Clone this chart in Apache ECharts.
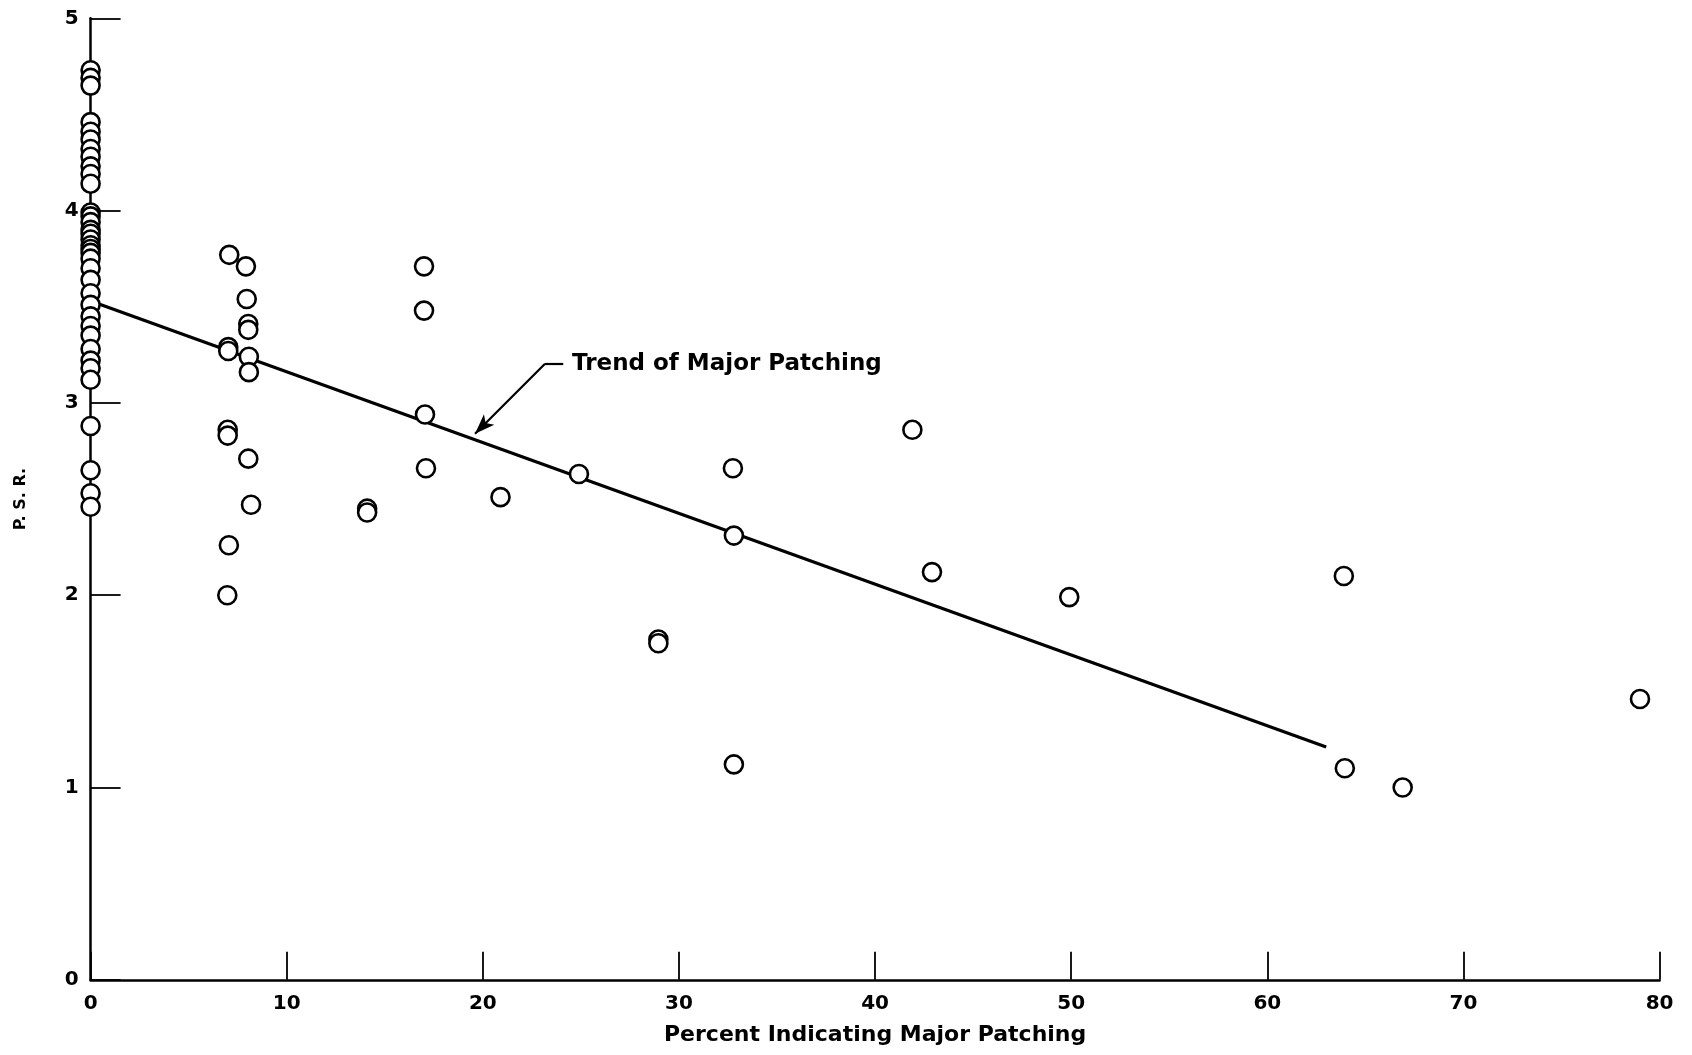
<!DOCTYPE html>
<html>
<head>
<meta charset="utf-8">
<script src="https://cdn.jsdelivr.net/npm/echarts@6/dist/echarts.min.js"></script>
<style>
html,body{margin:0;padding:0;background:#fff;}
#c{width:1692px;height:1055px;}
</style>
</head>
<body>
<div id="c"></div>
<script>
// ---- data ----
const xTickLabels = [0, 10, 20, 30, 40, 50, 60, 70, 80];
const yTickLabels = [0, 1, 2, 3, 4, 5];

// P.S.R. values of sections with 0 % major patching (stacked on the y axis)
const zeroPatchPSR = [
  4.73, 4.69, 4.65,
  4.46, 4.41, 4.37, 4.32, 4.28, 4.23, 4.19, 4.14,
  3.99, 3.97, 3.94, 3.90, 3.88, 3.85, 3.82, 3.80, 3.78, 3.75, 3.70,
  3.64, 3.57, 3.51, 3.45, 3.40, 3.35, 3.28, 3.22, 3.18, 3.12,
  2.88, 2.65, 2.53, 2.46
];

// sections with some major patching
const patchPct = [
  7.07, 7.92, 7.96, 8.04, 8.04, 7.02, 7.02, 8.07, 8.07, 6.99, 6.99, 8.04, 8.18, 7.05, 6.97,
  17.0, 17.0, 17.05, 17.1, 14.1, 14.1,
  20.9, 24.9, 32.75, 32.8, 28.95, 28.95, 32.8,
  41.9, 42.9, 49.9, 63.9, 63.95, 66.9, 79.0
];
const patchPSR = [
  3.77, 3.71, 3.54, 3.41, 3.38, 3.29, 3.27, 3.24, 3.16, 2.86, 2.83, 2.71, 2.47, 2.26, 2.00,
  3.71, 3.48, 2.94, 2.66, 2.45, 2.43,
  2.51, 2.63, 2.66, 2.31, 1.77, 1.75, 1.12,
  2.86, 2.12, 1.99, 2.10, 1.10, 1.00, 1.46
];

// trend line end points
const trendPct = [0, 63];
const trendPSR = [3.53, 1.21];

const annotationText = 'Trend of Major Patching';
const xTitle = 'Percent Indicating Major Patching';
const yTitle = 'P. S. R.';

// ---- chart ----
const scatterData = zeroPatchPSR.map(v => [0, v])
  .concat(patchPct.map((x, i) => [x, patchPSR[i]]));
const trendData = trendPct.map((x, i) => [x, trendPSR[i]]);

const FONT = 'DejaVu Sans';
const chart = echarts.init(document.getElementById('c'), null, {renderer: 'canvas'});

chart.setOption({
  animation: false,
  backgroundColor: '#ffffff',
  grid: {left: 90.6, right: 32.4, top: 18.3, bottom: 75.2, containLabel: false},
  xAxis: {
    type: 'value',
    min: xTickLabels[0],
    max: xTickLabels[xTickLabels.length - 1],
    interval: xTickLabels[1] - xTickLabels[0],
    name: xTitle,
    nameLocation: 'middle',
    nameGap: 44,
    nameTextStyle: {fontFamily: FONT, fontWeight: 'bold', fontSize: 22, color: '#000'},
    axisLine: {show: true, onZero: false, lineStyle: {color: '#000', width: 2.5}},
    axisTick: {show: true, inside: true, length: 28, lineStyle: {color: '#000', width: 1.8}},
    axisLabel: {fontFamily: FONT, fontWeight: 'bold', fontSize: 20, color: '#000', margin: 14},
    splitLine: {show: false}
  },
  yAxis: {
    type: 'value',
    min: yTickLabels[0],
    max: yTickLabels[yTickLabels.length - 1],
    interval: yTickLabels[1] - yTickLabels[0],
    name: yTitle,
    nameLocation: 'middle',
    nameGap: 62,
    nameTextStyle: {fontFamily: FONT, fontWeight: 'bold', fontSize: 16, color: '#000'},
    axisLine: {show: true, onZero: false, lineStyle: {color: '#000', width: 2.5}},
    axisTick: {show: true, inside: true, length: 30, lineStyle: {color: '#000', width: 1.8}},
    axisLabel: {fontFamily: FONT, fontWeight: 'bold', fontSize: 20, color: '#000', margin: 12},
    splitLine: {show: false}
  },
  series: [
    {
      type: 'line',
      data: trendData,
      symbol: 'none',
      z: 2,
      silent: true,
      lineStyle: {color: '#000', width: 3.2},
      markLine: {
        silent: true,
        animation: false,
        precision: 4,
        label: {show: false},
        emphasis: {disabled: true},
        lineStyle: {color: '#000', width: 2.2, type: 'solid'},
        symbol: ['none', 'none'],
        data: [
          [{coord: [24.1, 3.204], symbol: 'none'}, {coord: [23.17, 3.204], symbol: 'none'}],
          [{coord: [23.17, 3.204], symbol: 'none'}, {coord: [19.6, 2.84], symbol: 'arrow', symbolSize: [11, 20]}]
        ]
      }
    },
    {
      type: 'scatter',
      data: scatterData,
      symbol: 'circle',
      symbolSize: 18,
      z: 3,
      itemStyle: {color: '#fff', borderColor: '#000', borderWidth: 2.6, opacity: 1}
    }
  ]
});

// annotation text anchored at a data position
const anchor = chart.convertToPixel({gridIndex: 0}, [24.55, 3.204]);
chart.setOption({
  graphic: [{
    type: 'text',
    x: anchor[0],
    y: anchor[1],
    silent: true,
    z: 10,
    style: {
      text: annotationText,
      fill: '#000',
      font: 'bold 23px "DejaVu Sans"',
      textAlign: 'left',
      textVerticalAlign: 'middle'
    }
  }]
});
</script>
</body>
</html>
